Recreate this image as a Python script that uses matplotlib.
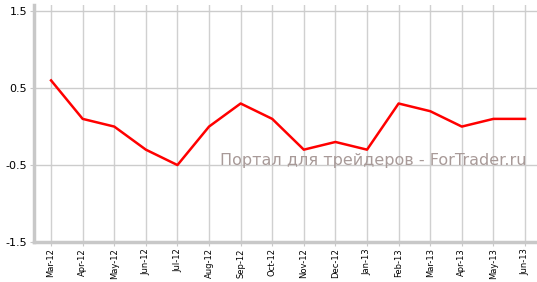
import matplotlib
matplotlib.use("Agg")
import matplotlib.pyplot as plt

# === Data ===
months = ["Mar-12", "Apr-12", "May-12", "Jun-12", "Jul-12", "Aug-12", "Sep-12", "Oct-12",
          "Nov-12", "Dec-12", "Jan-13", "Feb-13", "Mar-13", "Apr-13", "May-13", "Jun-13"]
values = [0.6, 0.1, 0.0, -0.3, -0.5, 0.0, 0.3, 0.1,
          -0.3, -0.2, -0.3, 0.3, 0.2, 0.0, 0.1, 0.1]
y_ticks = [-1.5, -0.5, 0.5, 1.5]

fig = plt.figure(figsize=(5.37, 2.82), dpi=100)
ax = fig.add_axes([34 / 537, 40 / 282, 503 / 537, 237 / 282])

x = list(range(len(months)))

# grid
for xi in x:
    ax.axvline(xi, color="#d0d0d0", lw=1, zorder=0)
for yt in y_ticks[1:]:
    ax.axhline(yt, color="#cccccc", lw=1, zorder=0)

ax.plot(x, values, color="#ff0000", lw=1.8, zorder=3)

ax.set_xlim(-0.54, 15.38)
ax.set_ylim(-1.5, 1.58)
ax.set_xticks(x)
ax.set_xticklabels(months, rotation=90, fontsize=6)
ax.set_yticks(y_ticks)
ax.set_yticklabels(["-1.5", "-0.5", "0.5", "1.5"], fontsize=8)

for s in ["top", "right"]:
    ax.spines[s].set_visible(False)
ax.spines["left"].set_color("#c8c8c8")
ax.spines["left"].set_linewidth(2.5)
ax.spines["bottom"].set_color("#c8c8c8")
ax.spines["bottom"].set_linewidth(2.5)
ax.tick_params(axis="y", length=3, color="#c8c8c8", pad=2)
ax.tick_params(axis="x", length=3, color="#c8c8c8", pad=1.5)

# watermark
ax.text(0.98, 0.345, "Портал для трейдеров - ForTrader.ru", transform=ax.transAxes,
        ha="right", va="center", fontsize=11.5, color="#a89a98", zorder=2)

fig.savefig("out.png", dpi=100)
